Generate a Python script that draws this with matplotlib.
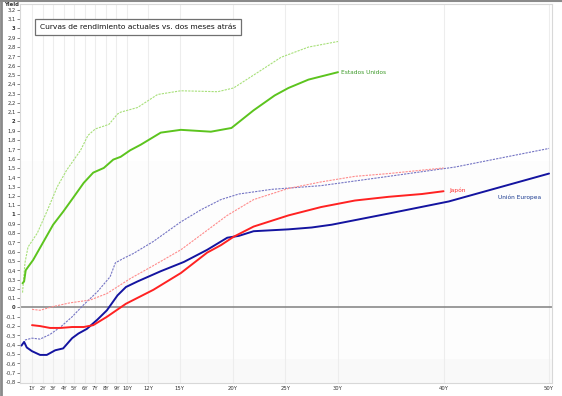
import matplotlib
matplotlib.use('Agg')
import matplotlib.pyplot as plt
from matplotlib.lines import Line2D
import numpy as np

plt.rcParams['font.family'] = ['DejaVu Sans']

# curves: years to maturity and yield (%)
us_now_x = [0.1, 0.25, 0.4, 0.65, 1.1, 2.05, 3.0, 3.95, 4.9, 5.9, 6.8, 7.8, 8.7, 9.4, 10.3,
            11.3, 13.2, 15.1, 17.95, 19.9, 22.0, 24.0, 25.3, 27.2, 30]
us_now_y = [0.26, 0.28, 0.40, 0.44, 0.51, 0.70, 0.89, 1.03, 1.18, 1.34, 1.45, 1.50, 1.59, 1.62, 1.69,
            1.75, 1.88, 1.91, 1.89, 1.93, 2.12, 2.28, 2.36, 2.45, 2.53]
us_old_x = [0.1, 0.33, 0.62, 1.5, 2.4, 3.4, 4.3, 5.6, 6.3, 7.0, 7.8, 8.3, 9.1, 9.4, 11.0,
            12.9, 15.1, 18.6, 20.1, 22.7, 24.6, 27.2, 30]
us_old_y = [0.16, 0.48, 0.65, 0.80, 1.03, 1.30, 1.48, 1.69, 1.85, 1.92, 1.95, 1.97, 2.08, 2.10, 2.15,
            2.29, 2.33, 2.32, 2.36, 2.55, 2.69, 2.80, 2.86]
eu_now_x = [0, 0.25, 0.5, 1.0, 1.76, 2.4, 3.2, 3.95, 4.8, 5.4, 6.2, 7.2, 8.1, 9.1, 9.9,
            11.0, 13.2, 15.4, 17.6, 19.5, 20.6, 22.0, 25.3, 27.5, 29.4, 34.8, 40.5, 50]
eu_now_y = [-0.41, -0.37, -0.43, -0.47, -0.51, -0.51, -0.46, -0.44, -0.33, -0.28, -0.23, -0.13, -0.03, 0.13, 0.22,
            0.28, 0.39, 0.49, 0.62, 0.75, 0.77, 0.82, 0.84, 0.86, 0.89, 1.01, 1.14, 1.44]
eu_old_x = [0.33, 1.0, 1.76, 2.7, 3.7, 4.8, 5.9, 7.2, 8.4, 8.9, 9.7, 10.6, 12.5, 15.1, 17.0,
            18.9, 20.6, 23.7, 28.4, 34.8, 41.1, 50]
eu_old_y = [-0.35, -0.33, -0.34, -0.29, -0.21, -0.10, 0.03, 0.17, 0.33, 0.48, 0.53, 0.58, 0.71, 0.92, 1.05,
            1.16, 1.22, 1.27, 1.31, 1.41, 1.51, 1.71]
jp_now_x = [1, 1.76, 2.7, 3.7, 4.8, 5.9, 6.8, 8.1, 9.9, 12.5, 15.1, 17.6, 18.9, 20.1, 22.0,
            25.3, 28.4, 31.6, 34.8, 37.95, 40]
jp_now_y = [-0.19, -0.20, -0.22, -0.22, -0.21, -0.21, -0.19, -0.10, 0.04, 0.19, 0.37, 0.59, 0.67, 0.76, 0.87,
            0.99, 1.08, 1.15, 1.19, 1.22, 1.25]
jp_old_x = [1, 1.76, 3.0, 4.6, 6.5, 8.1, 10.3, 12.5, 15.1, 17.6, 19.5, 22.0, 25.3, 28.4, 31.6, 34.8, 40]
jp_old_y = [-0.02, -0.03, 0.01, 0.05, 0.08, 0.15, 0.31, 0.45, 0.62, 0.83, 0.99, 1.16, 1.28, 1.35, 1.41, 1.44, 1.50]

x_ticks = [1, 2, 3, 4, 5, 6, 7, 8, 9, 10, 12, 15, 20, 25, 30, 40, 50]
x_labels = [f'{t}Y' for t in x_ticks]
y_ticks = np.round(np.arange(-0.8, 3.25, 0.1), 1)

title = 'Curvas de rendimiento actuales vs. dos meses atrás'

fig = plt.figure(figsize=(5.62, 3.96), dpi=100)
ax = fig.add_axes([20 / 562, 13 / 396, 532 / 562, 379 / 396])
ax.set_xlim(-0.14, 50.28)
ax.set_ylim(-0.812, 3.263)

# faint background bands
ax.axhspan(-0.55, 1.58, color='#fdfdfd', zorder=0, lw=0)
ax.axhspan(-0.9, -0.55, color='#f9f9f9', zorder=0, lw=0)

for t in x_ticks:
    ax.axvline(t, color='#ededed', lw=0.8, zorder=1)
ax.axhline(0, color='#808080', lw=1.1, zorder=2)

dash = dict(lw=0.8, ls=(0, (2, 1)), zorder=3)
solid = dict(lw=1.4, zorder=4, solid_joinstyle='round', solid_capstyle='round')
ax.plot(us_old_x, us_old_y, color='#a8e07a', **dash)
ax.plot(eu_old_x, eu_old_y, color='#7575c4', **dash)
ax.plot(jp_old_x, jp_old_y, color='#ff8c8c', **dash)
ax.plot(us_now_x, us_now_y, color='#5cc41e', **solid)
ax.plot(eu_now_x, eu_now_y, color='#1414a0', **solid)
ax.plot(jp_now_x, jp_now_y, color='#ff2222', **solid)

ax.text(30.3, 2.53, 'Estados Unidos', color='#3c9a28', fontsize=4.2, va='center', ha='left')
ax.text(40.5, 1.26, 'Japón', color='#ff3030', fontsize=4.2, va='center', ha='left')
ax.text(45.2, 1.18, 'Unión Europea', color='#1a3a90', fontsize=4.2, va='center', ha='left')

ax.set_xticks(x_ticks)
ax.set_xticklabels(x_labels, fontsize=3.8)
ax.tick_params(axis='x', length=0, pad=2, colors='#333333')
ax.set_yticks(y_ticks)
ylabels = []
for v in y_ticks:
    s = f'{v:g}'.replace('.', ',')
    if s == '-0':
        s = '0'
    ylabels.append(s)
ax.set_yticklabels(ylabels, fontsize=3.8)
for lab, v in zip(ax.get_yticklabels(), y_ticks):
    if abs(v - round(v)) < 1e-6:
        lab.set_fontweight('bold')
ax.tick_params(axis='y', length=2, width=0.5, pad=1.2, colors='#555555', labelcolor='#333333')

for sp in ax.spines.values():
    sp.set_color('#d8d8d8')
    sp.set_linewidth(0.8)

fig.text(12 / 562, 1 - 5 / 396, 'Yield', fontsize=3.8, fontweight='bold', ha='center', va='center', color='#333333')

fig.text(40 / 562, 1 - 27 / 396, title, fontsize=5.4, ha='left', va='center', color='#111111',
         bbox=dict(boxstyle='square,pad=0.65', facecolor='white', edgecolor='#707070', linewidth=0.9))

# window frame
fig.add_artist(Line2D([0, 1], [0.998, 0.998], transform=fig.transFigure, color='#8a8a8a', lw=1.5))
fig.add_artist(Line2D([0.002, 0.002], [0, 1], transform=fig.transFigure, color='#8a8a8a', lw=2))

fig.savefig('out.png', dpi=100)
